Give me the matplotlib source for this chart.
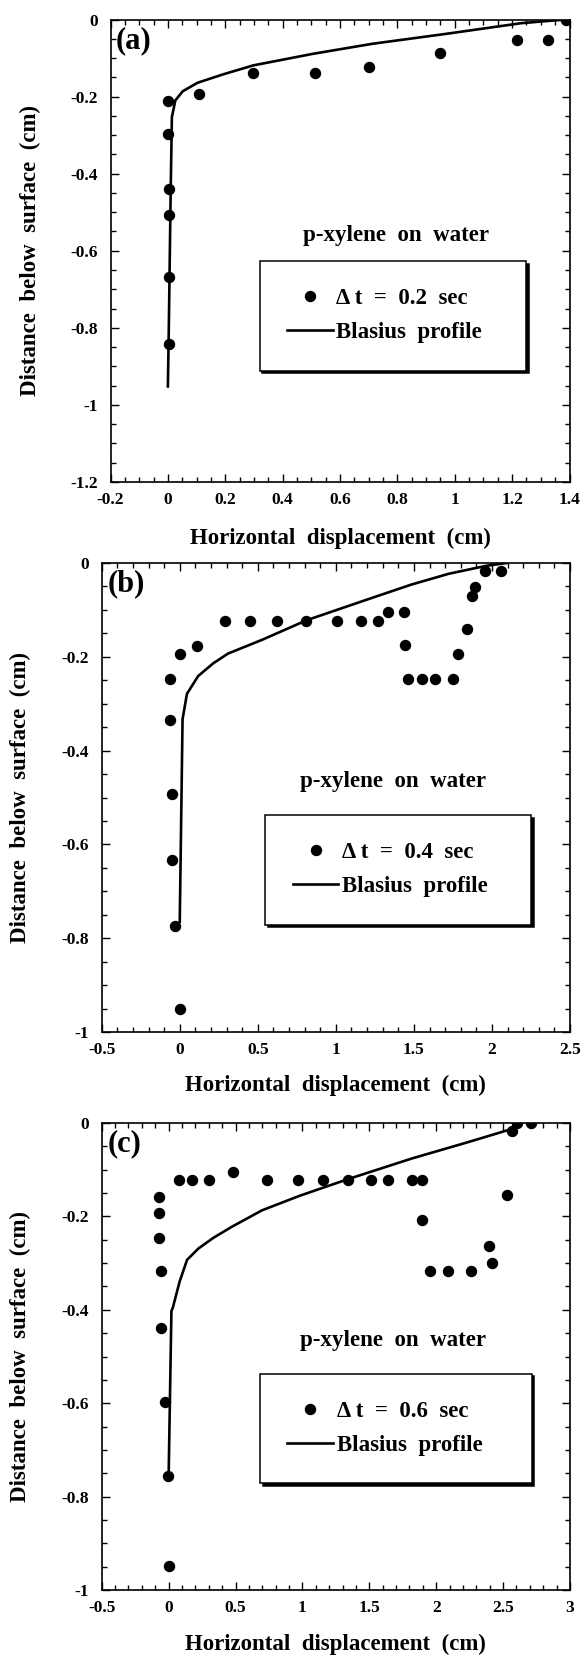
import matplotlib
matplotlib.use("Agg")
import matplotlib.pyplot as plt
from matplotlib.ticker import MultipleLocator, FuncFormatter

# ---------------- data ----------------
# panel (a): dt = 0.2 s
a_x = [1.387, 1.216, 1.324, 0.950, 0.701, 0.513, 0.297, 0.110, 0.001, 0.0, 0.003, 0.003, 0.003, 0.003]
a_y = [0.0, -0.053, -0.053, -0.087, -0.123, -0.139, -0.139, -0.194, -0.211, -0.298, -0.439, -0.508, -0.667, -0.843]
a_bx = [0.0, 0.003, 0.010, 0.014, 0.026, 0.052, 0.104, 0.194, 0.298, 0.506, 0.713, 0.972, 1.232, 1.387]
a_by = [-0.952, -0.814, -0.434, -0.253, -0.210, -0.186, -0.164, -0.142, -0.119, -0.089, -0.063, -0.037, -0.0095, 0.0]

# panel (b): dt = 0.4 s
b_x = [2.061, 1.956, 1.894, 1.875, 1.843, 1.781, 1.752, 1.638, 1.549, 1.460, 1.441, 1.439, 1.336, 1.273,
       1.161, 1.010, 0.806, 0.622, 0.449, 0.293, 0.113, 0.003, -0.062, -0.062, -0.047, -0.047, -0.031, 0.003]
b_y = [-0.018, -0.018, -0.052, -0.070, -0.141, -0.193, -0.247, -0.247, -0.247, -0.247, -0.175, -0.105, -0.105, -0.124,
       -0.124, -0.124, -0.124, -0.124, -0.124, -0.124, -0.176, -0.193, -0.247, -0.334, -0.492, -0.633, -0.774, -0.950]
b_bx = [0.0, 0.018, 0.046, 0.118, 0.214, 0.310, 0.526, 0.813, 1.244, 1.484, 1.723, 1.963, 2.095]
b_by = [-0.765, -0.333, -0.279, -0.241, -0.214, -0.193, -0.164, -0.122, -0.073, -0.046, -0.023, -0.006, 0.0]

# panel (c): dt = 0.6 s
c_x = [2.706, 2.606, 2.566, 2.531, 2.392, 2.414, 2.258, 2.085, 1.950, 1.897, 1.897, 1.818, 1.642, 1.511, 1.343,
       1.155, 0.967, 0.735, 0.485, 0.303, 0.175, 0.074, -0.074, -0.074, -0.074, -0.058, -0.058, -0.030, -0.007, 0.004]
c_y = [0.0, 0.0, -0.017, -0.155, -0.263, -0.299, -0.317, -0.317, -0.317, -0.207, -0.121, -0.121, -0.123, -0.123, -0.123,
       -0.123, -0.123, -0.123, -0.105, -0.123, -0.123, -0.123, -0.158, -0.192, -0.247, -0.317, -0.439, -0.597, -0.755, -0.948]
c_bx = [0.0, 0.021, 0.032, 0.082, 0.138, 0.222, 0.334, 0.474, 0.698, 0.978, 1.343, 1.818, 2.238, 2.551, 2.60]
c_by = [-0.76, -0.403, -0.395, -0.340, -0.293, -0.269, -0.246, -0.222, -0.187, -0.156, -0.120, -0.076, -0.041, -0.014, 0.0]

panel_tags = ["(a)", "(b)", "(c)"]
dt_labels = ["\u0394 t  =  0.2  sec", "\u0394 t  =  0.4  sec", "\u0394 t  =  0.6  sec"]
line_label = "Blasius  profile"
annot = "p-xylene  on  water"
xlabel = "Horizontal  displacement  (cm)"
ylabel = "Distance  below  surface  (cm)"

xlims = [(-0.2, 1.4), (-0.5, 2.5), (-0.5, 3.0)]
ylims = [(-1.2, 0.0), (-1.0, 0.0), (-1.0, 0.0)]
xmajor = [0.2, 0.5, 0.5]
xminor = [0.05, 0.1, 0.1]

# ---------------- style ----------------
plt.rcParams['font.family'] = ['Liberation Serif', 'DejaVu Serif']
plt.rcParams['font.weight'] = 'bold'
plt.rcParams['axes.labelweight'] = 'bold'
plt.rcParams['axes.unicode_minus'] = False

W, H = 587, 1655
fig = plt.figure(figsize=(W / 100, H / 100), dpi=100)

# axes rectangles in pixels: left, right, top, bottom
rects = [(110.5, 569.5, 19.5, 482), (101.7, 570.0, 563, 1032), (101.7, 570.0, 1123, 1590)]
xlab_y = [-0.121, -0.113, -0.117]
leg_boxes = [(0.325, 0.478, 0.58), (0.349, 0.463, 0.568), (0.338, 0.4635, 0.580)]

data = [(a_x, a_y, a_bx, a_by), (b_x, b_y, b_bx, b_by), (c_x, c_y, c_bx, c_by)]


def tick_fmt(v, pos):
    if abs(v) < 1e-9:
        return "0"
    return "%g" % round(v, 3)


fmt = FuncFormatter(tick_fmt)

for i in range(3):
    l, r, t, b = rects[i]
    ax = fig.add_axes([l / W, 1 - b / H, (r - l) / W, (b - t) / H])
    px, py, bx, by = data[i]
    ax.plot(bx, by, color='black', lw=1.9, label=line_label, zorder=2)
    ax.plot(px, py, 'o', color='black', ms=7.2, mec='black', label=dt_labels[i], zorder=3)
    ax.set_xlim(*xlims[i])
    ax.set_ylim(*ylims[i])
    ax.xaxis.set_major_locator(MultipleLocator(xmajor[i]))
    ax.xaxis.set_minor_locator(MultipleLocator(xminor[i]))
    ax.yaxis.set_major_locator(MultipleLocator(0.2))
    ax.yaxis.set_minor_locator(MultipleLocator(0.05))
    ax.xaxis.set_major_formatter(fmt)
    ax.yaxis.set_major_formatter(fmt)
    ax.tick_params(which='both', direction='in', top=True, right=True, width=1.0)
    ax.tick_params(which='major', length=6, labelsize=12.5)
    ax.tick_params(which='minor', length=3.5)
    ax.tick_params(axis='x', which='major', pad=7)
    ax.tick_params(axis='y', which='major', pad=9)
    for lab in ax.get_xticklabels() + ax.get_yticklabels():
        lab.set_fontweight('bold')
    for s in ax.spines.values():
        s.set_linewidth(1.2)

    ax.set_xlabel(xlabel, fontsize=16.5, fontweight='bold')
    ax.set_ylabel(ylabel, fontsize=16.5, fontweight='bold')
    ax.xaxis.set_label_coords(0.5, xlab_y[i])
    ax.xaxis.label.set_va('center')
    ax.yaxis.set_label_coords(-0.174, 0.5)
    ax.yaxis.label.set_va('center')

    ax.text(0.012, 0.955, panel_tags[i], transform=ax.transAxes, fontsize=22,
            fontweight='bold', ha='left', va='center')
    ax.text(0.622, 0.534, annot, transform=ax.transAxes, fontsize=16.5,
            fontweight='bold', ha='center', va='center')

    x0, ytop, w = leg_boxes[i]
    handles, labels = ax.get_legend_handles_labels()
    leg = ax.legend([handles[1], handles[0]], [labels[1], labels[0]],
                    loc='upper left', bbox_to_anchor=(x0, ytop - 0.3, w, 0.3),
                    mode='expand', borderaxespad=0, fancybox=False,
                    shadow={'color': 'black', 'alpha': 1.0},
                    frameon=True, framealpha=1, edgecolor='black',
                    prop={'family': ['Liberation Serif', 'DejaVu Serif'], 'weight': 'bold', 'size': 16.5},
                    borderpad=1.2, labelspacing=0.55, handlelength=2.0, handletextpad=0.15,
                    numpoints=1)
    leg.get_frame().set_linewidth(1.1)

fig.savefig("out.png", dpi=100)
